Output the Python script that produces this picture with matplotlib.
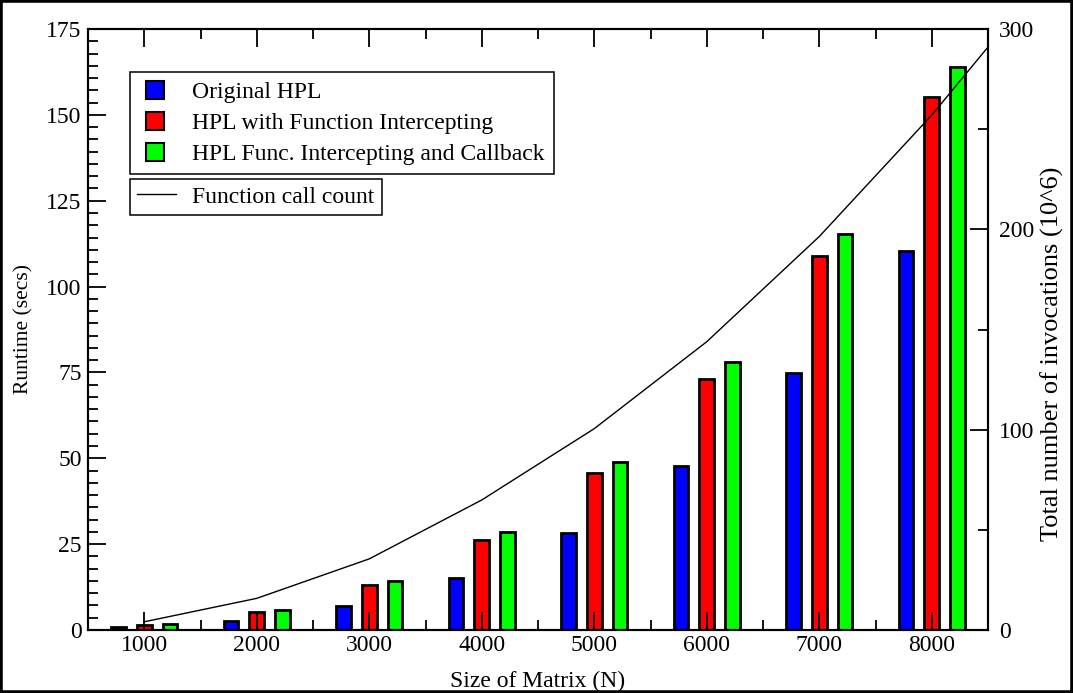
import numpy as np
import matplotlib
matplotlib.use("Agg")
import matplotlib.pyplot as plt
from matplotlib.ticker import MultipleLocator, AutoMinorLocator
from matplotlib.patches import Patch, Rectangle
from matplotlib.lines import Line2D
from matplotlib.legend_handler import HandlerPatch

plt.rcParams["font.family"] = ["Liberation Serif", "DejaVu Serif"]

# Runtime of HPL per matrix size (seconds)
matrix_sizes = [1000, 2000, 3000, 4000, 5000, 6000, 7000, 8000]
runtime_original = [1.0, 2.5, 7.0, 15.2, 28.2, 47.8, 74.9, 110.4]
runtime_intercept = [1.4, 5.3, 13.1, 26.2, 45.8, 73.1, 109.0, 155.3]
runtime_callback = [1.75, 5.7, 14.3, 28.6, 48.8, 78.0, 115.2, 163.9]

# Number of intercepted function calls (millions)
call_sizes = [1000, 2000, 3000, 4000, 5000, 6000, 7000, 8000, 8500]
call_counts = [4.1, 15.8, 35.5, 64.9, 100.5, 143.9, 196.4, 257.0, 291.0]

series_labels = ["Original HPL",
                 "HPL with Function Intercepting",
                 "HPL Func. Intercepting and Callback"]
series_colors = ["#0000ff", "#ff0000", "#00ff00"]
line_label = "Function call count"

W, H = 1073, 693
fig = plt.figure(figsize=(W / 100, H / 100), dpi=100)
ax = fig.add_axes([88 / W, 63 / H, 900 / W, 601 / H])

x = np.array(matrix_sizes, dtype=float)
bar_w = 130
offset = 230
for k, (vals, col) in enumerate(zip([runtime_original, runtime_intercept, runtime_callback],
                                    series_colors)):
    ax.bar(x + (k - 1) * offset, vals, width=bar_w, color=col,
           edgecolor="black", linewidth=2.0)

ax.set_xlim(500, 8500)
ax.set_ylim(0, 175)
ax.xaxis.set_major_locator(MultipleLocator(1000))
ax.xaxis.set_minor_locator(AutoMinorLocator(2))
ax.yaxis.set_major_locator(MultipleLocator(25))
ax.yaxis.set_minor_locator(AutoMinorLocator(7))

ax.tick_params(axis="x", which="both", direction="in", top=True, bottom=True,
               width=1.3, labelsize=17, pad=3.5)
ax.tick_params(axis="x", which="major", length=13)
ax.tick_params(axis="x", which="minor", length=7)
ax.tick_params(axis="y", which="both", direction="in", left=True, right=False,
               width=1.3, labelsize=17, pad=4.5)
ax.tick_params(axis="y", which="major", length=13)
ax.tick_params(axis="y", which="minor", length=7)

ax2 = ax.twinx()
ax2.plot(call_sizes, call_counts, color="black", linewidth=1.0)
ax2.set_ylim(0, 300)
ax2.yaxis.set_major_locator(MultipleLocator(100))
ax2.yaxis.set_minor_locator(AutoMinorLocator(2))
ax2.tick_params(axis="y", which="both", direction="in", right=True, left=False,
                width=1.3, labelsize=17, pad=8)
ax2.tick_params(axis="y", which="major", length=13)
ax2.tick_params(axis="y", which="minor", length=7)

for a in (ax, ax2):
    for s in a.spines.values():
        s.set_linewidth(1.5)

ax.set_xlabel("Size of Matrix (N)", fontsize=17)
ax.xaxis.set_label_coords(0.5, -0.068)
ax.set_ylabel("Runtime (secs)", fontsize=15.5)
ax.yaxis.set_label_coords(-0.061, 0.5)
ax2.set_ylabel("Total number of invocations (10^6)", fontsize=19)
ax2.yaxis.set_label_coords(1.058, 0.46)


def square_patch(legend, orig_handle, xdescent, ydescent, width, height, fontsize):
    side = 13.0
    return Rectangle((-xdescent + 4.8, -ydescent + (height - side) / 2), side, side)


legend_style = dict(loc="upper left", bbox_transform=fig.transFigure, borderaxespad=0,
                    frameon=True, fancybox=False, edgecolor="black", framealpha=1,
                    fontsize=17, handlelength=1.66)

bar_handles = [Patch(facecolor=c, edgecolor="black", linewidth=1.5) for c in series_colors]
leg1 = ax2.legend(bar_handles, series_labels, bbox_to_anchor=(130 / W, 1 - 72 / H),
                  handler_map={Patch: HandlerPatch(patch_func=square_patch)},
                  borderpad=0.4, labelspacing=0.4, handletextpad=0.58,
                  **legend_style)
leg1.get_frame().set_linewidth(1.1)

line_handle = Line2D([], [], color="black", linewidth=1.0)
leg2 = ax2.legend([line_handle], [line_label], bbox_to_anchor=(130 / W, 1 - 179 / H),
                  borderpad=0.3, labelspacing=0.4, handletextpad=0.68,
                  **legend_style)
leg2.get_frame().set_linewidth(1.1)
ax2.add_artist(leg1)

fig.patches.append(Rectangle((0, 0), 1, 1, transform=fig.transFigure, fill=False,
                             edgecolor="black", linewidth=4))

fig.savefig("out.png", dpi=100)
